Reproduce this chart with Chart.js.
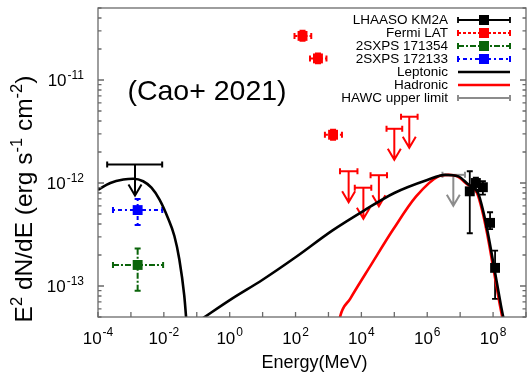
<!DOCTYPE html>
<html>
<head>
<meta charset="utf-8">
<script src="https://cdn.jsdelivr.net/npm/chart.js@4.4.1/dist/chart.umd.min.js"></script>
<style>
  html, body { margin: 0; padding: 0; background: #fff; overflow: hidden; }
  #wrap { width: 530px; height: 375px; overflow: hidden; }
</style>
</head>
<body>
<div id="wrap"><canvas id="chart" width="533" height="375"></canvas></div>
<script>
// values: energy in MeV, flux in erg s^-1 cm^-2
const xTickExps = [-4, -2, 0, 2, 4, 6, 8];
const yTickExps = [-11, -12, -13];

const lhaasoE  = [1.96e7, 3.0e7, 4.9e7, 8.1e7, 1.15e8];
const lhaasoF  = [8.3e-13, 1.0e-12, 9.1e-13, 4.1e-13, 1.5e-13];
const lhaasoLo = [3.25e-13, 8.6e-13, 7.7e-13, 3.56e-13, 7.5e-14];
const lhaasoHi = [1.3e-12, 1.13e-12, 1.04e-12, 5.2e-13, 2.2e-13];

const fermiE   = [163, 480, 1380];
const fermiF   = [2.68e-11, 1.62e-11, 2.94e-12];
const fermiELo = [93, 275, 780];
const fermiEHi = [300, 870, 2570];
const fermiLo  = [2.4e-11, 1.45e-11, 2.63e-12];
const fermiHi  = [3.0e-11, 1.81e-11, 3.29e-12];

const fermiUlE   = [4.1e3, 1.15e4, 3.4e4, 1.0e5, 2.85e5];
const fermiUlF   = [1.3e-12, 9.0e-13, 1.19e-12, 3.36e-12, 4.4e-12];
const fermiUlELo = [2.24e3, 6.3e3, 1.9e4, 5.8e4, 1.6e5];
const fermiUlEHi = [7.6e3, 2.0e4, 6.0e4, 1.74e5, 5.1e5];

const sx171354E = [1.6e-3], sx171354F = [1.6e-13];
const sx171354ELo = [2.85e-4], sx171354EHi = [9.5e-3];
const sx171354Lo = [9.0e-14], sx171354Hi = [2.31e-13];

const sx172133E = [1.6e-3], sx172133F = [5.46e-13];
const sx172133ELo = [2.85e-4], sx172133EHi = [8.95e-3];
const sx172133Lo = [3.9e-13], sx172133Hi = [7.0e-13];

const xrayUlE = [1.33e-3], xrayUlF = [1.51e-12];
const xrayUlELo = [1.9e-4], xrayUlEHi = [8.9e-3];

const hawcE = [6.2e6], hawcF = [1.2e-12];
const hawcELo = [2.9e6], hawcEHi = [1.4e7];

// synchrotron + inverse Compton bumps (null = gap between them)
const leptonicE = [1e-4, 2.37e-4, 5.9e-4, 1.18e-3, 2.35e-3, 4.2e-3, 7.4e-3, 1.32e-2, 2.09e-2, 2.95e-2, 4.17e-2, 5.0e-2,
                   0.08,
                   0.13, 1.15, 10, 100, 1.3e3, 1.2e4, 1e5, 1e6, 3.5e6, 8.8e6, 1.75e7, 3.5e7, 4.9e7, 6.9e7, 1.1e8, 1.74e8, 2.24e8];
const leptonicF = [8.6e-13, 1.0e-12, 1.08e-12, 1.1e-12, 1.04e-12, 9.0e-13, 6.9e-13, 4.6e-13, 3.06e-13, 1.82e-13, 8.05e-14, 4.0e-14,
                   null,
                   4.7e-14, 7.5e-14, 1.15e-13, 1.9e-13, 3.45e-13, 5.4e-13, 8.0e-13, 1.07e-12, 1.2e-12, 1.16e-12, 9.7e-13, 8.0e-13, 5.5e-13, 3.3e-13, 1.46e-13, 6.45e-14, 4.3e-14];

const hadronicE = [2.05e3, 2.24e3, 4.56e3, 2.03e4, 9.3e4, 4.6e5, 2.2e6, 4.4e6, 8.2e6, 1.63e7, 3.25e7, 4.6e7, 6.5e7, 1.03e8, 1.62e8, 2.1e8];
const hadronicF = [4.2e-14, 5.0e-14, 7.5e-14, 1.63e-13, 3.55e-13, 7.4e-13, 1.16e-12, 1.2e-12, 1.16e-12, 9.7e-13, 8.0e-13, 5.5e-13, 3.3e-13, 1.46e-13, 6.45e-14, 4.3e-14];

const FONT = '"Liberation Sans", Arial, sans-serif';

function pts(xs, ys) { return xs.map((x, i) => ({ x: x, y: ys[i] })); }

const datasets = [
  { label: 'LHAASO KM2A', data: pts(lhaasoE, lhaasoF), pointStyle: 'rect', pointRadius: 7, backgroundColor: '#000', borderWidth: 0,
    err: { xLo: lhaasoE.map(v => v / 1.12), xHi: lhaasoE.map(v => v * 1.12), yLo: lhaasoLo, yHi: lhaasoHi },
    bar: { color: '#000', width: 1.8, dash: [] }, key: { color: '#000', width: 1.8, dash: [], caps: true, square: true } },
  { label: 'Fermi LAT', data: pts(fermiE, fermiF), pointStyle: 'rect', pointRadius: 7, backgroundColor: '#ff0000', borderWidth: 0,
    err: { xLo: fermiELo, xHi: fermiEHi, yLo: fermiLo, yHi: fermiHi },
    bar: { color: '#ff0000', width: 2, dash: [3, 2] }, key: { color: '#ff0000', width: 2, dash: [3, 2], caps: true, square: true } },
  { label: 'Fermi LAT UL', data: pts(fermiUlE, fermiUlF), pointRadius: 0,
    err: { xLo: fermiUlELo, xHi: fermiUlEHi }, ul: 0.5,
    bar: { color: '#ff0000', width: 2, dash: [] } },
  { label: '2SXPS 171354', data: pts(sx171354E, sx171354F), pointStyle: 'rect', pointRadius: 7, backgroundColor: '#0a640a', borderWidth: 0,
    err: { xLo: sx171354ELo, xHi: sx171354EHi, yLo: sx171354Lo, yHi: sx171354Hi },
    bar: { color: '#0a640a', width: 2, dash: [6, 2, 2, 2] }, key: { color: '#0a640a', width: 2, dash: [6, 2, 2, 2], caps: true, square: true } },
  { label: '2SXPS 172133', data: pts(sx172133E, sx172133F), pointStyle: 'rect', pointRadius: 7, backgroundColor: '#0000ff', borderWidth: 0,
    err: { xLo: sx172133ELo, xHi: sx172133EHi, yLo: sx172133Lo, yHi: sx172133Hi },
    bar: { color: '#0000ff', width: 2, dash: [2, 3, 4, 3] }, key: { color: '#0000ff', width: 2, dash: [2, 3, 4, 3], caps: true, square: true } },
  { label: 'X-ray UL', data: pts(xrayUlE, xrayUlF), pointRadius: 0,
    err: { xLo: xrayUlELo, xHi: xrayUlEHi }, ul: 0.5,
    bar: { color: '#000', width: 2, dash: [] } },
  { label: 'Leptonic', data: pts(leptonicE, leptonicF), showLine: true, pointRadius: 0, borderColor: '#000', borderWidth: 2.6,
    cubicInterpolationMode: 'monotone', spanGaps: false, key: { color: '#000', width: 2.6, dash: [] } },
  { label: 'Hadronic', data: pts(hadronicE, hadronicF), showLine: true, pointRadius: 0, borderColor: '#ff0000', borderWidth: 2.6,
    cubicInterpolationMode: 'monotone', key: { color: '#ff0000', width: 2.6, dash: [] } },
  { label: 'HAWC upper limit', data: pts(hawcE, hawcF), pointRadius: 0,
    err: { xLo: hawcELo, xHi: hawcEHi }, ul: 0.5,
    bar: { color: '#8c8c8c', width: 2, dash: [] }, key: { color: '#8c8c8c', width: 2, dash: [], caps: true } }
];

// error bars and upper-limit arrows, placed with the chart's scales
const errorBars = {
  id: 'errorBars',
  beforeDatasetsDraw(chart) {
    const { ctx, chartArea: a, scales: { x, y } } = chart;
    ctx.save();
    ctx.beginPath();
    ctx.rect(a.left, a.top, a.right - a.left, a.bottom - a.top);
    ctx.clip();
    chart.data.datasets.forEach(ds => {
      if (!ds.bar) return;
      ctx.strokeStyle = ds.bar.color;
      ctx.lineWidth = ds.bar.width;
      ds.data.forEach((p, i) => {
        const px = x.getPixelForValue(p.x), py = y.getPixelForValue(p.y);
        if (ds.err.xLo) {
          const x0 = x.getPixelForValue(ds.err.xLo[i]), x1 = x.getPixelForValue(ds.err.xHi[i]);
          ctx.setLineDash(ds.bar.dash);
          ctx.beginPath(); ctx.moveTo(x0, py); ctx.lineTo(x1, py); ctx.stroke();
          ctx.setLineDash([]);
          ctx.beginPath();
          ctx.moveTo(x0, py - 3); ctx.lineTo(x0, py + 3);
          ctx.moveTo(x1, py - 3); ctx.lineTo(x1, py + 3);
          ctx.stroke();
        }
        if (ds.err.yLo) {
          const y0 = y.getPixelForValue(ds.err.yLo[i]), y1 = y.getPixelForValue(ds.err.yHi[i]);
          ctx.setLineDash(ds.bar.dash);
          ctx.beginPath(); ctx.moveTo(px, y0); ctx.lineTo(px, y1); ctx.stroke();
          ctx.setLineDash([]);
          ctx.beginPath();
          ctx.moveTo(px - 3, y0); ctx.lineTo(px + 3, y0);
          ctx.moveTo(px - 3, y1); ctx.lineTo(px + 3, y1);
          ctx.stroke();
        }
        if (ds.ul) {
          const tip = y.getPixelForValue(p.y * ds.ul);
          ctx.setLineDash([]);
          ctx.beginPath();
          ctx.moveTo(px, py); ctx.lineTo(px, tip);
          ctx.moveTo(px - 6.5, tip - 11); ctx.lineTo(px, tip); ctx.lineTo(px + 6.5, tip - 11);
          ctx.stroke();
        }
      });
    });
    ctx.restore();
  }
};

function drawPow(ctx, exp, x, y, align, size) {
  ctx.font = size + 'px ' + FONT;
  const wb = ctx.measureText('10').width;
  const small = Math.round(size * 0.72) + 'px ' + FONT;
  ctx.font = small;
  const we = ctx.measureText(String(exp)).width;
  const w = wb + we + 1;
  let x0 = align === 'right' ? x - w : x - w / 2;
  ctx.textAlign = 'left';
  ctx.font = size + 'px ' + FONT;
  ctx.fillText('10', x0, y);
  ctx.font = small;
  ctx.fillText(String(exp), x0 + wb + 1, y - size * 0.45);
}

// frame, inward ticks, tick labels, titles and key
const frame = {
  id: 'frame',
  afterDraw(chart) {
    const { ctx, chartArea: a, scales: { x, y } } = chart;
    ctx.save();
    ctx.strokeStyle = '#6a6a6a';
    ctx.lineWidth = 1.3;
    ctx.strokeRect(a.left, a.top, a.right - a.left, a.bottom - a.top);

    ctx.beginPath();
    for (let e = -4; e <= 9; e++) {
      const px = x.getPixelForValue(Math.pow(10, e));
      ctx.moveTo(px, a.bottom); ctx.lineTo(px, a.bottom - 5);
    }
    for (let e = -14; e <= -11; e++) {
      for (let m = 1; m <= 9; m++) {
        const v = m * Math.pow(10, e);
        if (v < y.min * 0.999 || v > y.max * 1.001) continue;
        const py = y.getPixelForValue(v);
        const len = m === 1 ? 6 : 3.5;
        ctx.moveTo(a.left, py); ctx.lineTo(a.left + len, py);
        ctx.moveTo(a.right, py); ctx.lineTo(a.right - len, py);
      }
    }
    ctx.stroke();

    ctx.fillStyle = '#000';
    ctx.textBaseline = 'alphabetic';
    xTickExps.forEach(e => drawPow(ctx, e, x.getPixelForValue(Math.pow(10, e)), 344, 'center', 17));
    yTickExps.forEach(e => drawPow(ctx, e, 84, y.getPixelForValue(Math.pow(10, e)) + 6.5, 'right', 17));

    ctx.font = '18px ' + FONT;
    ctx.textAlign = 'center';
    ctx.fillText('Energy(MeV)', (a.left + 531) / 2, 368);

    ctx.font = '28.5px ' + FONT;
    ctx.fillText('(Cao+ 2021)', 207, 100);

    // y title, rotated
    ctx.save();
    ctx.translate(32, 199);
    ctx.rotate(-Math.PI / 2);
    const parts = [['E', 0], ['2', 1], [' dN/dE (erg s', 0], ['-1', 1], [' cm', 0], ['-2', 1], [')', 0]];
    const big = '24.5px ' + FONT, sm = '16.5px ' + FONT;
    let total = 0;
    parts.forEach(p => { ctx.font = p[1] ? sm : big; total += ctx.measureText(p[0]).width; });
    let cx = -total / 2;
    ctx.textAlign = 'left';
    parts.forEach(p => {
      ctx.font = p[1] ? sm : big;
      ctx.fillText(p[0], cx, p[1] ? -10 : 0);
      cx += ctx.measureText(p[0]).width;
    });
    ctx.restore();

    // key
    ctx.font = '13.5px ' + FONT;
    ctx.textAlign = 'right';
    ctx.textBaseline = 'middle';
    let row = 0;
    chart.data.datasets.forEach(ds => {
      if (!ds.key) return;
      const yy = 20 + row * 13;
      row++;
      ctx.fillStyle = '#000';
      ctx.fillText(ds.label, 448, yy);
      ctx.strokeStyle = ds.key.color;
      ctx.lineWidth = ds.key.width;
      ctx.setLineDash(ds.key.dash);
      ctx.beginPath(); ctx.moveTo(458, yy); ctx.lineTo(510, yy); ctx.stroke();
      ctx.setLineDash([]);
      if (ds.key.caps) {
        ctx.beginPath();
        ctx.moveTo(458, yy - 3); ctx.lineTo(458, yy + 3);
        ctx.moveTo(510, yy - 3); ctx.lineTo(510, yy + 3);
        ctx.stroke();
      }
      if (ds.key.square) {
        ctx.fillStyle = ds.key.color;
        ctx.fillRect(479, yy - 5, 10, 10);
      }
    });
    ctx.restore();
  }
};

new Chart(document.getElementById('chart'), {
  type: 'scatter',
  data: { datasets: datasets },
  options: {
    responsive: false,
    devicePixelRatio: 1,
    animation: false,
    layout: { padding: { top: 8, right: 2, left: 0, bottom: 0 } },
    plugins: { legend: { display: false }, tooltip: { enabled: false } },
    scales: {
      x: {
        type: 'logarithmic', min: 1e-4, max: 1e9,
        ticks: { display: false }, grid: { display: false }, border: { display: false },
        afterFit: s => { s.height = 58; }
      },
      y: {
        type: 'logarithmic', min: 5e-14, max: 5e-11,
        ticks: { display: false }, grid: { display: false }, border: { display: false },
        afterFit: s => { s.width = 98; }
      }
    }
  },
  plugins: [errorBars, frame]
});
</script>
</body>
</html>
